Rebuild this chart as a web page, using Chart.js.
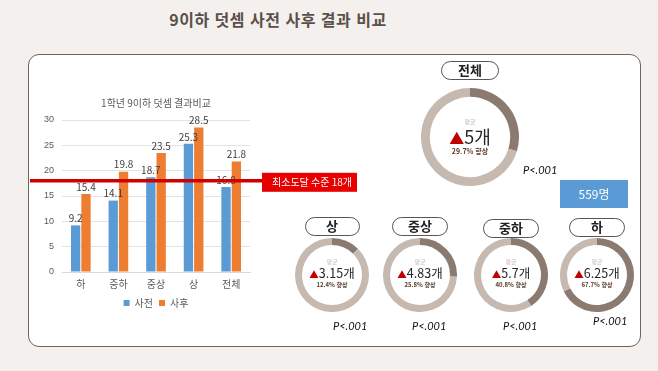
<!DOCTYPE html>
<html lang="ko">
<head>
<meta charset="utf-8">
<script src="https://cdn.jsdelivr.net/npm/chart.js@4.4.1/dist/chart.umd.min.js"></script>
<style>
  html, body { margin: 0; padding: 0; }
  body {
    width: 658px; height: 371px; position: relative; overflow: hidden;
    background: #f3f0ed; font-family: "Noto Sans CJK KR", "Noto Sans", sans-serif;
  }
  .abs { position: absolute; }
  #pageTitle {
    left: 0; width: 556px; top: 7px; text-align: center;
    font-size: 16px; font-weight: bold; color: #5b4f49; letter-spacing: 0.5px;
  }
  #panel {
    left: 28px; top: 54px; width: 611px; height: 291px;
    background: #fff; border: 1.5px solid #6d6560; border-radius: 11px;
  }
  .pill {
    background: #fff; border: 1.5px solid #555; border-radius: 11px; box-sizing: border-box;
    text-align: center; font-weight: bold; color: #222; font-size: 13px; line-height: 16px;
  }
  .inner { display: flex; flex-direction: column; align-items: center; justify-content: center; }
  .avg { font-size: 6px; color: #c8c0ba; line-height: 8px; }
  .gain { color: #262626; white-space: nowrap; line-height: 1.15; }
  .gain .tri { color: #c00000; }
  .pct { font-weight: bold; color: #5a3a2a; white-space: nowrap; line-height: 10px; }
  .pval { font-family: Lato, "Liberation Sans", sans-serif; font-style: italic; font-size: 11px; color: #111; }
  #count {
    left: 560px; top: 180px; width: 68px; height: 28px; background: #5b9bd5;
    color: #fff; font-size: 12px; text-align: center; line-height: 28px;
  }
</style>
</head>
<body>
<div id="pageTitle" class="abs">9이하 덧셈 사전 사후 결과 비교</div>
<div id="panel" class="abs"></div>
<canvas id="barChart" class="abs" style="left:28px;top:88px;width:335px;height:230px"></canvas>
<div id="donuts"></div>
<div id="count" class="abs">559명</div>

<script>
const categories = ['하', '중하', '중상', '상', '전체'];
const preScores = [9.2, 14.1, 18.7, 25.3, 16.8];
const postScores = [15.4, 19.8, 23.5, 28.5, 21.8];
const seriesNames = ['사전', '사후'];
const yMax = 30;
const yStep = 5;
const threshold = 18;
const thresholdLabel = '최소도달 수준 18개';

const groups = ['전체', '상', '중상', '중하', '하'];
const gainCounts = ['5', '3.15', '4.83', '5.7', '6.25'];
const gainPercents = [29.7, 12.4, 25.8, 40.8, 67.7];
const pValues = ['P<.001', 'P<.001', 'P<.001', 'P<.001', 'P<.001'];

// layout of each donut: center x, center y, outer radius
const donutLayout = [
  { cx: 470, cy: 137, r: 49, pillW: 58, pillY: 61, px: 523, py: 163, big: true },
  { cx: 332, cy: 275, r: 37, pillW: 55, pillY: 217, px: 333, py: 319 },
  { cx: 420, cy: 275, r: 37, pillW: 56, pillY: 217, px: 412, py: 319 },
  { cx: 511, cy: 275, r: 37, pillW: 56, pillY: 219, px: 503, py: 319 },
  { cx: 597, cy: 275, r: 37, pillW: 56, pillY: 218, px: 593, py: 314 },
];

const BLUE = '#5b9bd5';
const ORANGE = '#ed7d31';
const RING_DARK = '#8b7a70';
const RING_LIGHT = '#c5b9b0';

const valueLabels = {
  id: 'valueLabels',
  afterDatasetsDraw(chart) {
    const { ctx } = chart;
    ctx.save();
    ctx.font = '10px "Noto Sans CJK KR", sans-serif';
    ctx.fillStyle = '#404040';
    ctx.textAlign = 'center';
    ctx.textBaseline = 'bottom';
    chart.data.datasets.forEach((ds, i) => {
      chart.getDatasetMeta(i).data.forEach((bar, j) => {
        ctx.fillText(ds.data[j].toFixed(1), bar.x, bar.y - 2);
      });
    });
    ctx.restore();
  },
};

const thresholdLine = {
  id: 'thresholdLine',
  afterDraw(chart) {
    const { ctx, chartArea } = chart;
    const y = chart.scales.y.getPixelForValue(threshold);
    const boxLeft = chartArea.right + 12;
    ctx.save();
    ctx.strokeStyle = '#d00000';
    ctx.lineWidth = 3.5;
    ctx.beginPath();
    ctx.moveTo(2, y);
    ctx.lineTo(boxLeft, y);
    ctx.stroke();
    ctx.fillStyle = '#e60000';
    ctx.fillRect(boxLeft, y - 8, 95, 19);
    ctx.fillStyle = '#fff';
    ctx.font = '10px "Noto Sans CJK KR", sans-serif';
    ctx.textAlign = 'center';
    ctx.textBaseline = 'middle';
    ctx.fillText(thresholdLabel, boxLeft + 50, y + 1.5);
    ctx.restore();
  },
};

new Chart(document.getElementById('barChart'), {
  type: 'bar',
  data: {
    labels: categories,
    datasets: [
      { label: seriesNames[0], data: preScores, backgroundColor: BLUE },
      { label: seriesNames[1], data: postScores, backgroundColor: ORANGE },
    ],
  },
  options: {
    responsive: false,
    animation: false,
    events: [],
    categoryPercentage: 0.55,
    barPercentage: 0.9,
    layout: { padding: { left: 4, right: 113, top: 0, bottom: 0 } },
    scales: {
      x: {
        grid: { display: false, drawTicks: false },
        border: { color: '#d9d9d9' },
        ticks: { color: '#595959', font: { size: 10, family: '"Noto Sans CJK KR"' }, padding: 6 },
        afterFit(scale) { scale.height = 20; },
      },
      y: {
        min: 0,
        max: yMax,
        grid: { color: '#e3e3e3', drawTicks: false },
        border: { display: false },
        ticks: { stepSize: yStep, color: '#595959', font: { size: 9 }, padding: 8 },
        afterFit(scale) { scale.width = 30; },
      },
    },
    plugins: {
      title: {
        display: true,
        text: '1학년 9이하 덧셈 결과비교',
        fullSize: false,
        color: '#595959',
        font: { size: 10, weight: 'normal', family: '"Noto Sans CJK KR"' },
        padding: { top: 9, bottom: 11 },
      },
      legend: {
        position: 'bottom',
        fullSize: false,
        labels: {
          boxWidth: 6, boxHeight: 6, padding: 6,
          color: '#595959', font: { size: 10, family: '"Noto Sans CJK KR"' },
        },
      },
      tooltip: { enabled: false },
    },
  },
  plugins: [valueLabels, thresholdLine],
});

const donutsEl = document.getElementById('donuts');
groups.forEach((name, i) => {
  const L = donutLayout[i];
  const size = L.r * 2;

  const canvas = document.createElement('canvas');
  canvas.className = 'abs';
  canvas.style.cssText = `left:${L.cx - L.r}px;top:${L.cy - L.r}px;width:${size}px;height:${size}px`;
  donutsEl.appendChild(canvas);

  const inner = document.createElement('div');
  inner.className = 'abs inner';
  inner.style.cssText = `left:${L.cx - L.r}px;top:${L.cy - L.r}px;width:${size}px;height:${size}px`;
  const gainSize = L.big ? 18 : 12.5;
  const pctSize = L.big ? 7 : 6;
  inner.innerHTML = `
    <div class="avg" style="margin-top:${L.big ? 0 : -2}px">평균</div>
    <div class="gain" style="font-size:${gainSize}px"><span class="tri" style="font-size:${gainSize - 3}px">▲</span>${gainCounts[i]}개</div>
    <div class="pct" style="font-size:${pctSize}px">${gainPercents[i]}% 향상</div>`;
  donutsEl.appendChild(inner);

  const pill = document.createElement('div');
  pill.className = 'abs pill';
  pill.style.cssText = `left:${L.cx - L.pillW / 2}px;top:${L.pillY}px;width:${L.pillW}px;height:19px`;
  pill.textContent = name;
  donutsEl.appendChild(pill);

  const p = document.createElement('div');
  p.className = 'abs pval';
  p.style.cssText = `left:${L.px}px;top:${L.py}px`;
  p.textContent = pValues[i];
  donutsEl.appendChild(p);

  new Chart(canvas, {
    type: 'doughnut',
    data: {
      labels: ['향상', ''],
      datasets: [{
        data: [gainPercents[i], 100 - gainPercents[i]],
        backgroundColor: [RING_DARK, RING_LIGHT],
        borderWidth: 0,
      }],
    },
    options: {
      responsive: false,
      animation: false,
      events: [],
      cutout: L.big ? '82%' : '81%',
      plugins: { legend: { display: false }, tooltip: { enabled: false } },
    },
  });
});
</script>
</body>
</html>
